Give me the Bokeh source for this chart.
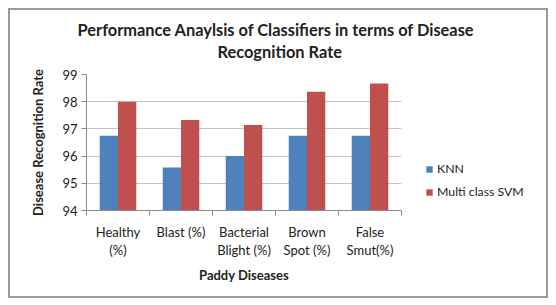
import numpy as np
from bokeh.plotting import figure
from bokeh.models import Range1d, FixedTicker, Legend, LegendItem, Title, InlineStyleSheet
from bokeh.embed import file_html
from bokeh.resources import INLINE

diseases = ["Healthy\n(%)", "Blast (%)", "Bacterial\nBlight (%)", "Brown\nSpot (%)", "False\nSmut(%)"]
knn = [96.75, 95.58, 96.0, 96.75, 96.75]
svm = [98.0, 97.33, 97.14, 98.37, 98.67]
y_ticks = [94, 95, 96, 97, 98, 99]
series_names = ["KNN", "Multi class SVM"]
title_lines = ["Performance Anaylsis of Classifiers in terms of Disease", "Recognition Rate"]

FONT = "Lato"
TXT = "#222222"
AX = "#8c8c8c"

p = figure(frame_width=315, frame_height=136, output_backend="svg", toolbar_location=None,
           x_range=Range1d(0, len(diseases)), y_range=Range1d(y_ticks[0], y_ticks[-1]),
           min_border_left=86, min_border_right=150, min_border_top=74, min_border_bottom=90)
p.outline_line_color = None
p.stylesheets = [InlineStyleSheet(css=(
    ":host { position: relative; }"
    ":host::after { content: ''; position: absolute; left: 8px; top: 8px; width: 540px; height: 290px;"
    " box-sizing: border-box; border: 2px solid #9a9a9a; pointer-events: none; z-index: 100; }"))]

centers = np.arange(len(diseases)) + 0.5
bw = 0.29
r1 = p.vbar(x=centers - bw / 2, top=knn, bottom=y_ticks[0], width=bw, fill_color="#4F81BD", line_color=None)
r2 = p.vbar(x=centers + bw / 2, top=svm, bottom=y_ticks[0], width=bw, fill_color="#C0504D", line_color=None)

# titles (later added = further from frame)
p.add_layout(Title(text=" ", text_font_size="10px", standoff=0), "above")
p.add_layout(Title(text=title_lines[1], align="left", offset=131, text_font=FONT,
                   text_font_size="16.4px", text_font_style="bold", text_color=TXT, standoff=2), "above")
p.add_layout(Title(text=title_lines[0], align="left", offset=-9, text_font=FONT,
                   text_font_size="16.4px", text_font_style="bold", text_color=TXT, standoff=0), "above")

# x axis
xa = p.xaxis[0]
xa.ticker = FixedTicker(ticks=list(centers), minor_ticks=list(range(len(diseases) + 1)))
xa.major_label_overrides = {float(c): lab for c, lab in zip(centers, diseases)}
xa.major_tick_in = 0
xa.major_tick_out = 0
xa.minor_tick_in = 0
xa.minor_tick_out = 5
xa.minor_tick_line_color = AX
xa.axis_line_color = AX
xa.major_label_standoff = 8
xa.major_label_text_font = FONT
xa.major_label_text_font_size = "13px"
xa.major_label_text_color = TXT
xa.major_label_text_line_height = 1.15
xa.axis_label = "Paddy Diseases"
xa.axis_label_text_font = FONT
xa.axis_label_text_font_size = "13px"
xa.axis_label_text_font_style = "bold"
xa.axis_label_text_color = TXT
xa.axis_label_standoff = 6

# y axis
ya = p.yaxis[0]
ya.ticker = FixedTicker(ticks=y_ticks)
ya.major_tick_in = 0
ya.major_tick_out = 5
ya.minor_tick_line_color = None
ya.major_tick_line_color = AX
ya.axis_line_color = AX
ya.major_label_standoff = 4
ya.major_label_text_font = FONT
ya.major_label_text_font_size = "13px"
ya.major_label_text_color = TXT
ya.axis_label = "Disease Recognition Rate"
ya.axis_label_text_font = FONT
ya.axis_label_text_font_size = "13px"
ya.axis_label_text_font_style = "bold"
ya.axis_label_text_color = TXT
ya.axis_label_standoff = 13

p.xgrid.visible = False
p.ygrid.grid_line_color = "#c4c4c4"

legend = Legend(items=[LegendItem(label=series_names[0], renderers=[r1]),
                       LegendItem(label=series_names[1], renderers=[r2])],
                location=(24, 11), padding=0, margin=0, spacing=8,
                glyph_width=8, glyph_height=8, label_height=12, label_standoff=4,
                label_text_font=FONT, label_text_font_size="12.3px", label_text_color=TXT,
                border_line_color=None, background_fill_alpha=0)
p.add_layout(legend, "right")

open("out.html", "w").write(file_html(p, INLINE))
